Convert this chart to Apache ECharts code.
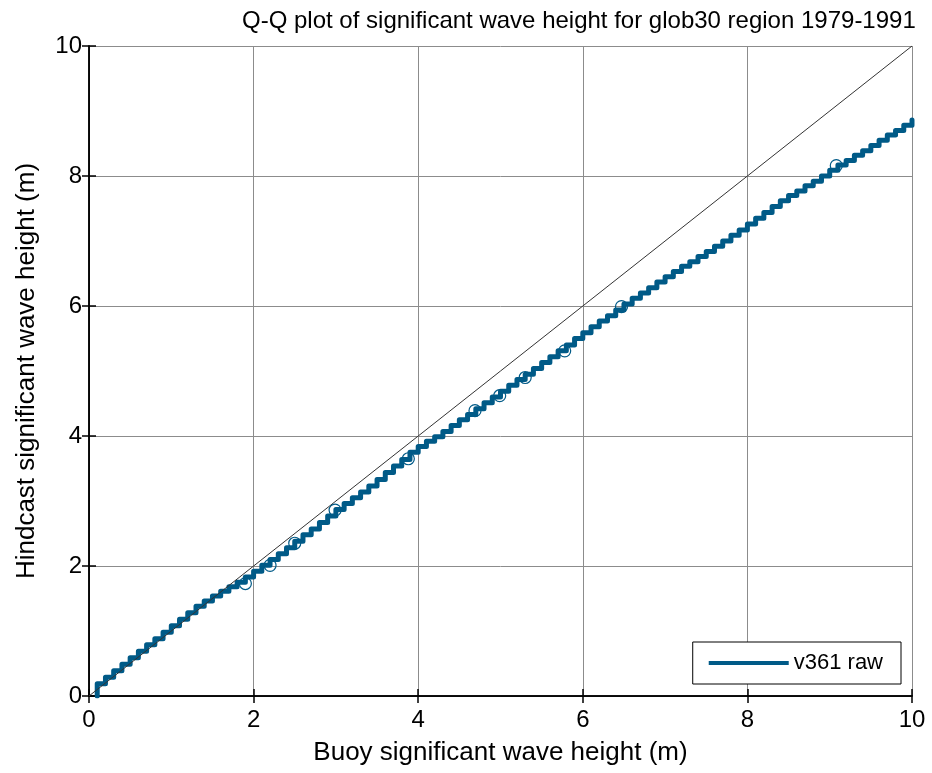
<!DOCTYPE html>
<html>
<head>
<meta charset="utf-8">
<script src="https://cdn.jsdelivr.net/npm/echarts@6/dist/echarts.min.js"></script>
<style>
  html, body { margin: 0; padding: 0; background: #fff; }
  #chart { width: 932px; height: 773px; }
</style>
</head>
<body>
<div id="chart"></div>
<script>
// Buoy quantiles (m), recorded to 0.1 m, and the matching hindcast quantiles (m)
const buoyQ = [
  0.1, 0.2, 0.3, 0.4, 0.5, 0.6, 0.7, 0.8, 0.9, 1.0,
  1.1, 1.2, 1.3, 1.4, 1.5, 1.6, 1.7, 1.8, 1.9, 2.0,
  2.1, 2.2, 2.3, 2.4, 2.5, 2.6, 2.7, 2.8, 2.9, 3.0,
  3.1, 3.2, 3.3, 3.4, 3.5, 3.6, 3.7, 3.8, 3.9, 4.0,
  4.1, 4.2, 4.3, 4.4, 4.5, 4.6, 4.7, 4.8, 4.9, 5.0,
  5.1, 5.2, 5.3, 5.4, 5.5, 5.6, 5.7, 5.8, 5.9, 6.0,
  6.1, 6.2, 6.3, 6.4, 6.5, 6.6, 6.7, 6.8, 6.9, 7.0,
  7.1, 7.2, 7.3, 7.4, 7.5, 7.6, 7.7, 7.8, 7.9, 8.0,
  8.1, 8.2, 8.3, 8.4, 8.5, 8.6, 8.7, 8.8, 8.9, 9.0,
  9.1, 9.2, 9.3, 9.4, 9.5, 9.6, 9.7, 9.8, 9.9, 10.0,
  10.0
];
const hindQ = [
  0.00, 0.19, 0.29, 0.39, 0.49, 0.59, 0.69, 0.79, 0.88, 0.98,
  1.08, 1.18, 1.28, 1.38, 1.46, 1.54, 1.61, 1.68, 1.75, 1.83,
  1.92, 2.01, 2.10, 2.19, 2.28, 2.38, 2.48, 2.57, 2.67, 2.77,
  2.87, 2.96, 3.05, 3.14, 3.23, 3.33, 3.44, 3.54, 3.64, 3.75,
  3.84, 3.92, 3.99, 4.07, 4.16, 4.25, 4.33, 4.42, 4.51, 4.60,
  4.69, 4.78, 4.87, 4.95, 5.04, 5.13, 5.22, 5.31, 5.40, 5.50,
  5.59, 5.68, 5.77, 5.85, 5.94, 6.03, 6.12, 6.20, 6.28, 6.37,
  6.45, 6.53, 6.61, 6.68, 6.76, 6.84, 6.92, 7.00, 7.09, 7.17,
  7.26, 7.35, 7.44, 7.53, 7.62, 7.70, 7.77, 7.85, 7.92, 8.00,
  8.09, 8.17, 8.24, 8.32, 8.39, 8.47, 8.55, 8.63, 8.70, 8.78,
  8.86
];

// Marked percentile points (buoy, hindcast)
const pctBuoy = [1.90, 2.20, 2.50, 2.99, 3.88, 4.69, 4.99, 5.30, 5.78, 6.47, 9.08];
const pctHind = [1.73, 2.01, 2.35, 2.86, 3.65, 4.39, 4.62, 4.90, 5.31, 5.99, 8.16];

// 1:1 reference line
const refLine = [[0, 0], [10, 10]];

const ticks = [0, 2, 4, 6, 8, 10];

const seriesName = 'v361 raw';
const titleText = 'Q-Q plot of significant wave height for glob30 region 1979-1991';
const xName = 'Buoy significant wave height (m)';
const yName = 'Hindcast significant wave height (m)';

const blue = '#005a87';
const font = "'Liberation Sans', Arial, sans-serif";

const chart = echarts.init(document.getElementById('chart'), null, { renderer: 'canvas' });

const axisBase = {
  min: ticks[0],
  max: ticks[ticks.length - 1],
  interval: ticks[1] - ticks[0],
  axisLine: { show: true, lineStyle: { color: '#000', width: 1.5 } },
  axisTick: { show: true, inside: true, length: 7, lineStyle: { color: '#000', width: 1.5 } }
};

chart.setOption({
  animation: false,
  backgroundColor: '#fff',
  title: {
    text: titleText,
    left: 237,
    top: 4,
    textStyle: { fontFamily: font, fontSize: 24, fontWeight: 'normal', color: '#000' }
  },
  grid: { left: 89, right: 20, top: 46, bottom: 77, containLabel: false, outerBoundsMode: 'none' },
  legend: {
    data: [seriesName],
    right: 31,
    bottom: 89,
    orient: 'horizontal',
    icon: 'rect',
    itemWidth: 80,
    itemHeight: 4,
    itemGap: 10,
    padding: [10, 18, 10, 16],
    borderColor: '#000',
    borderWidth: 1,
    backgroundColor: '#fff',
    textStyle: { fontFamily: font, fontSize: 22, color: '#000' }
  },
  xAxis: [
    Object.assign({}, axisBase, {
      type: 'value',
      position: 'bottom',
      name: xName,
      nameLocation: 'middle',
      nameGap: 44,
      nameTextStyle: { fontFamily: font, fontSize: 26, color: '#000' },
      axisLabel: { fontFamily: font, fontSize: 24, color: '#000', margin: 12 },
      splitLine: { show: true, lineStyle: { color: '#8c8c8c', width: 1 } }
    }),
    Object.assign({}, axisBase, {
      type: 'value',
      position: 'top',
      axisLabel: { show: false },
      splitLine: { show: false }
    })
  ],
  yAxis: [
    Object.assign({}, axisBase, {
      type: 'value',
      position: 'left',
      name: yName,
      nameLocation: 'middle',
      nameGap: 49,
      nameTextStyle: { fontFamily: font, fontSize: 26, color: '#000' },
      axisLabel: { fontFamily: font, fontSize: 24, color: '#000', margin: 7 },
      splitLine: { show: true, lineStyle: { color: '#8c8c8c', width: 1 } }
    }),
    Object.assign({}, axisBase, {
      type: 'value',
      position: 'right',
      axisLabel: { show: false },
      splitLine: { show: false }
    })
  ],
  series: [
    {
      name: 'reference',
      type: 'line',
      data: refLine,
      symbol: 'none',
      lineStyle: { color: '#333', width: 1 },
      z: 3
    },
    {
      name: seriesName,
      type: 'line',
      step: 'start',
      data: buoyQ.map((b, i) => [b, hindQ[i]]),
      symbol: 'none',
      lineStyle: { color: blue, width: 5, cap: 'round', join: 'round' },
      itemStyle: { color: blue },
      z: 2
    },
    {
      name: 'percentiles',
      type: 'scatter',
      data: pctBuoy.map((b, i) => [b, pctHind[i]]),
      symbol: 'circle',
      symbolSize: 12,
      itemStyle: { color: 'rgba(0,0,0,0)', borderColor: blue, borderWidth: 1.2, opacity: 1 },
      z: 4
    }
  ]
});
</script>
</body>
</html>
